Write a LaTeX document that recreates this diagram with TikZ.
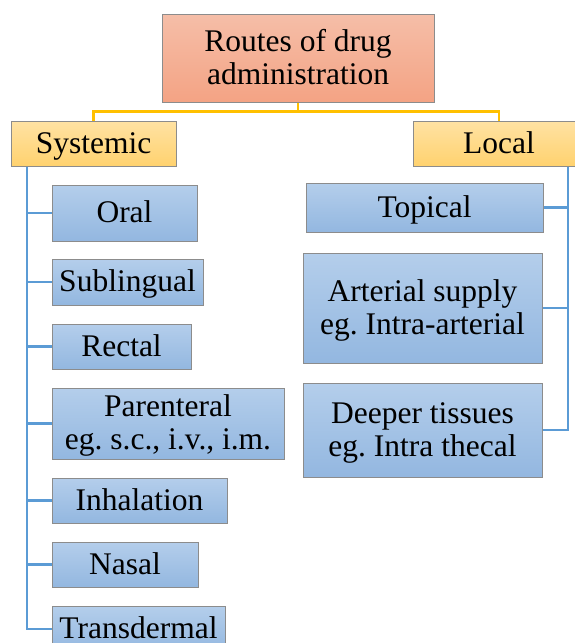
\documentclass[tikz,border=0pt]{standalone}
\usepackage{fontspec}
\setmainfont{Liberation Serif}
\frenchspacing
\newcommand{\onel}[1]{\rule{0pt}{19pt}\smash{#1}}
\newcommand{\twol}[2]{\rule[-14pt]{0pt}{14pt}\smash{\begin{tabular}[t]{@{}c@{}}#1\\#2\end{tabular}}}
\begin{document}
\begin{tikzpicture}[x=1pt,y=-1pt,
  base/.style={draw=black!45, line width=1pt, inner sep=0pt, align=center,
    font=\fontsize{31.5}{33}\selectfont, anchor=center},
  rootbox/.style={base, top color=rootTop, bottom color=rootBot},
  catbox/.style={base, top color=catTop, bottom color=catBot},
  leafbox/.style={base, top color=leafTop, bottom color=leafBot},
  yline/.style={draw=lineY, line width=2.5pt},
  bline/.style={draw=lineB, line width=2.5pt}]
\definecolor{rootTop}{HTML}{F5BEA8}
\definecolor{rootBot}{HTML}{F4A384}
\definecolor{catTop}{HTML}{FFE2A3}
\definecolor{catBot}{HTML}{FFD26F}
\definecolor{leafTop}{HTML}{B4CEEB}
\definecolor{leafBot}{HTML}{93B7E0}
\definecolor{lineY}{HTML}{FFC000}
\definecolor{lineB}{HTML}{5B9BD5}
\useasboundingbox (0,0) rectangle (574,643);

\coordinate (trunkL) at (27,166);
\coordinate (trunkR) at (568,166);

\node[rootbox, minimum width=272pt, minimum height=88pt] (root) at (298,58) {\twol{Routes of drug}{administration}};
\node[catbox, minimum width=165pt, minimum height=45pt] (sys) at (93.5,143.5) {\onel{Systemic}};
\node[catbox, minimum width=172pt, minimum height=45pt] (loc) at (499,143.5) {\onel{Local}};

\draw[yline] (root.south) -- ++(0,9) -| (sys.north);
\draw[yline] (root.south) -- ++(0,9) -| (loc.north);

\node[leafbox, minimum width=145pt, minimum height=56pt] (oral) at (124.5,213) {\onel{Oral}};
\node[leafbox, minimum width=151pt, minimum height=46pt] (sub) at (127.5,282) {\onel{Sublingual}};
\node[leafbox, minimum width=139pt, minimum height=45pt] (rect) at (121.5,346.5) {\onel{Rectal}};
\node[leafbox, minimum width=232pt, minimum height=71pt] (par) at (168,423.5) {\twol{Parenteral}{eg. s.c., i.v., i.m.}};
\node[leafbox, minimum width=175pt, minimum height=45pt] (inh) at (139.5,500.5) {\onel{Inhalation}};
\node[leafbox, minimum width=146pt, minimum height=45pt] (nas) at (125,564.5) {\onel{Nasal}};
\node[leafbox, minimum width=173pt, minimum height=46pt] (tra) at (138.5,629) {\onel{Transdermal}};

\node[leafbox, minimum width=237pt, minimum height=49pt] (top) at (424.5,207.5) {\onel{Topical}};
\node[leafbox, minimum width=239pt, minimum height=110pt] (art) at (422.5,308) {\twol{Arterial supply}{eg. Intra-arterial}};
\node[leafbox, minimum width=239pt, minimum height=94pt] (dee) at (422.5,430) {\twol{Deeper tissues}{eg. Intra thecal}};

\draw[bline] (sys.south -| trunkL) |- (tra.west);
\foreach \n in {oral,sub,rect,par,inh,nas}
  \draw[bline] (trunkL |- \n.west) -- (\n.west);

\draw[bline] (loc.south -| trunkR) |- (dee.east);
\foreach \n in {top,art}
  \draw[bline] (trunkR |- \n.east) -- (\n.east);
\end{tikzpicture}
\end{document}
